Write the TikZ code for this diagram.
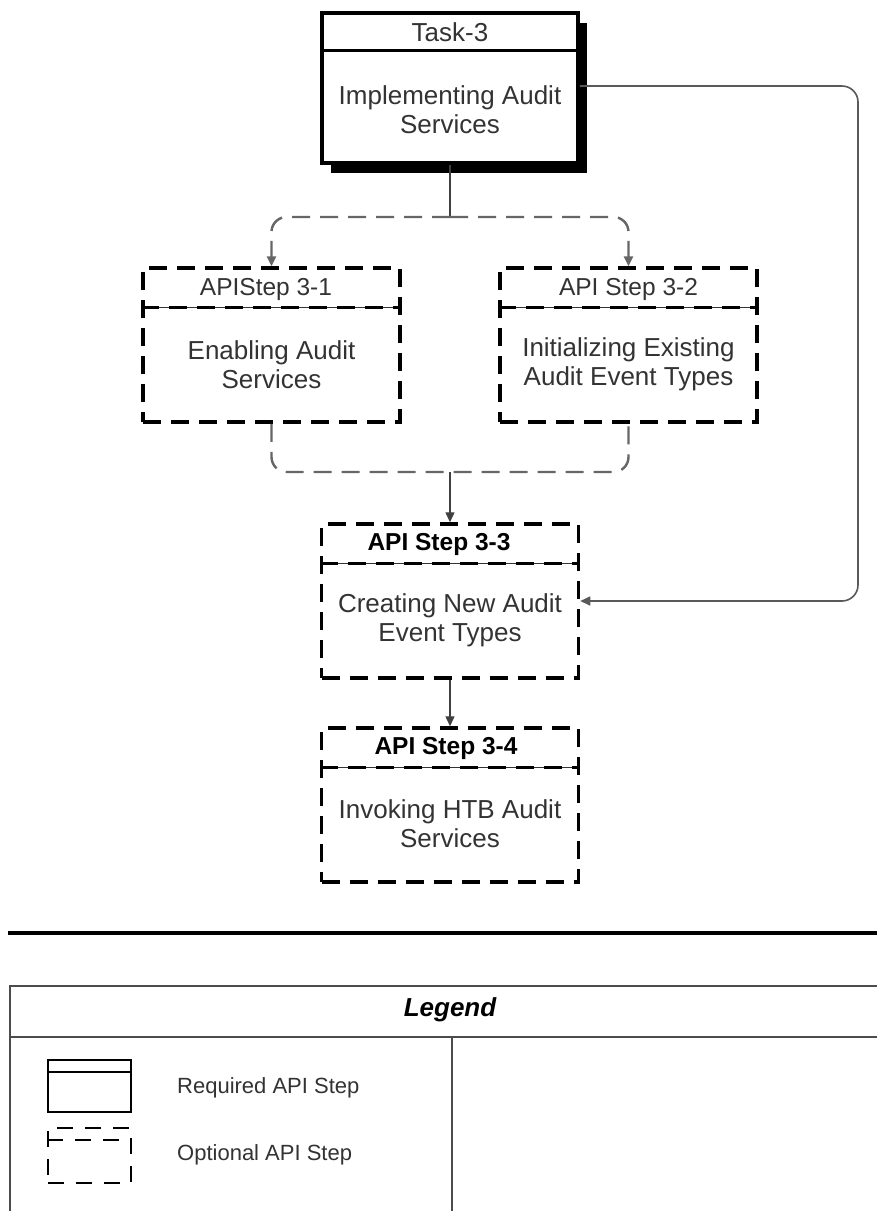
\documentclass[tikz,border=0pt]{standalone}
\usepackage{fontspec}
\setmainfont{Liberation Sans}
\usetikzlibrary{shadows,arrows.meta}
\begin{document}
\begin{tikzpicture}[x=1pt,y=-1pt,
  txt/.style={font=\fontsize{26}{29}\selectfont, text=black!80, align=center, inner sep=0pt},
  hdr/.style={font=\fontsize{24.5}{28}\selectfont, text=black!80, align=center, inner sep=0pt},
  hdrb/.style={font=\fontsize{24.5}{28}\selectfont\bfseries, text=black, align=center, inner sep=0pt},
  lgtxt/.style={font=\fontsize{22}{25}\selectfont, text=black!80, anchor=west, inner sep=0pt},
  reqbox/.style={draw, line width=3.5pt, fill=white, minimum width=256pt, minimum height=150pt,
    drop shadow={shadow xshift=9pt, shadow yshift=-10pt, fill=black, opacity=1}},
  optbox/.style={draw, line width=3.5pt, dash pattern=on 18pt off 10pt, minimum width=257pt, minimum height=154pt},
  conn/.style={draw=black!75, line width=1.4pt},
  dconn/.style={draw=black!60, line width=2.4pt, dash pattern=on 18pt off 10pt},
  loopc/.style={draw=black!65, line width=1.6pt, rounded corners=16pt},
  tip/.style={-{Triangle[length=10pt,width=9pt]}},
  thinsep/.style={draw=black!80, line width=1.2pt},
  thicksep/.style={draw=black, line width=3pt, dash pattern=on 18pt off 10pt}
]
\useasboundingbox (0,0) rectangle (877,1211);
\fill[white] (0,0) rectangle (877,1211);

% Task-3 (required)
\node[reqbox] (t3) at (450,88) {};
\draw[line width=3pt] ([yshift=-39pt]t3.north west) -- ([yshift=-39pt]t3.north east);
\node[txt] (t3h) at (450,32) {Task-3};
\node[txt] (t3b) at (450,110) {Implementing Audit\\Services};

% Step 3-1
\node[optbox] (s31) at (271.5,345) {};
\draw[thinsep] ([yshift=-41pt]s31.north west) -- ([yshift=-41pt]s31.north east);
\draw[thicksep] ([yshift=-41pt]s31.north west) -- ([yshift=-41pt]s31.north east);
\node[hdr] (s31h) at (266,289) {APIStep 3-1};
\node[txt] (s31b) at (271.5,365) {Enabling Audit\\Services};

% Step 3-2
\node[optbox] (s32) at (628.5,345) {};
\draw[thinsep] ([yshift=-41pt]s32.north west) -- ([yshift=-41pt]s32.north east);
\draw[thicksep] ([yshift=-41pt]s32.north west) -- ([yshift=-41pt]s32.north east);
\node[hdr] (s32h) at (628.5,289) {API Step 3-2};
\node[txt] (s32b) at (628.5,364) {Initializing Existing\\Audit Event Types};

% Step 3-3
\node[optbox] (s33) at (450,601) {};
\draw[thinsep] ([yshift=-41pt]s33.north west) -- ([yshift=-41pt]s33.north east);
\draw[thicksep] ([yshift=-41pt]s33.north west) -- ([yshift=-41pt]s33.north east);
\node[hdrb] (s33h) at (439,544) {API Step 3-3};
\node[txt] (s33b) at (450,620) {Creating New Audit\\Event Types};

% Step 3-4
\node[optbox] (s34) at (450,805) {};
\draw[thinsep] ([yshift=-41pt]s34.north west) -- ([yshift=-41pt]s34.north east);
\draw[thicksep] ([yshift=-41pt]s34.north west) -- ([yshift=-41pt]s34.north east);
\node[hdrb] (s34h) at (446,748) {API Step 3-4};
\node[txt] (s34b) at (450,824) {Invoking HTB Audit\\Services};

% connectors
\coordinate (j1) at (450,217);
\coordinate (j2) at (450,472);
\coordinate (lp) at (858,86);
\draw[conn] (t3.south) -- (j1);
\draw[dconn, rounded corners=15pt, tip] (j1) -| (s31.north);
\draw[dconn, rounded corners=15pt, tip] (j1) -| (s32.north);
\draw[dconn, rounded corners=15pt] (s31.south) |- (j2) -| (s32.south);
\draw[conn, tip] (j2) -- (s33.north);
\draw[conn, tip] (s33.south) -- (s34.north);
\draw[loopc, tip] (t3.east |- lp) -- (lp) |- (s33.east);

% separator line
\draw[line width=4.5pt] (8,933) -- (877,933);

% legend
\draw[draw=black!70, line width=1.5pt] (10,986) rectangle (900,1230);
\draw[draw=black!70, line width=1.5pt] (10,1037) -- (900,1037);
\draw[draw=black!70, line width=1.5pt] (452,1037) -- (452,1230);
\node[font=\fontsize{26}{30}\selectfont\bfseries\itshape, inner sep=0pt] (lgt) at (450,1010) {Legend};
\node[draw, line width=2.5pt, minimum width=83pt, minimum height=52pt] (lreq) at (89.5,1086) {};
\draw[line width=2.5pt] ([yshift=-13pt]lreq.north west) -- ([yshift=-13pt]lreq.north east);
\node[lgtxt] (lreqt) at (177,1088) {Required API Step};
\node[draw, line width=2.5pt, dash pattern=on 16pt off 12pt, minimum width=83pt, minimum height=55pt] (lopt) at (89.5,1155.5) {};
\draw[line width=2.5pt, dash pattern=on 16pt off 12pt] ([yshift=-13pt]lopt.north west) -- ([yshift=-13pt]lopt.north east);
\node[lgtxt] (loptt) at (177,1155) {Optional API Step};
\end{tikzpicture}
\end{document}
